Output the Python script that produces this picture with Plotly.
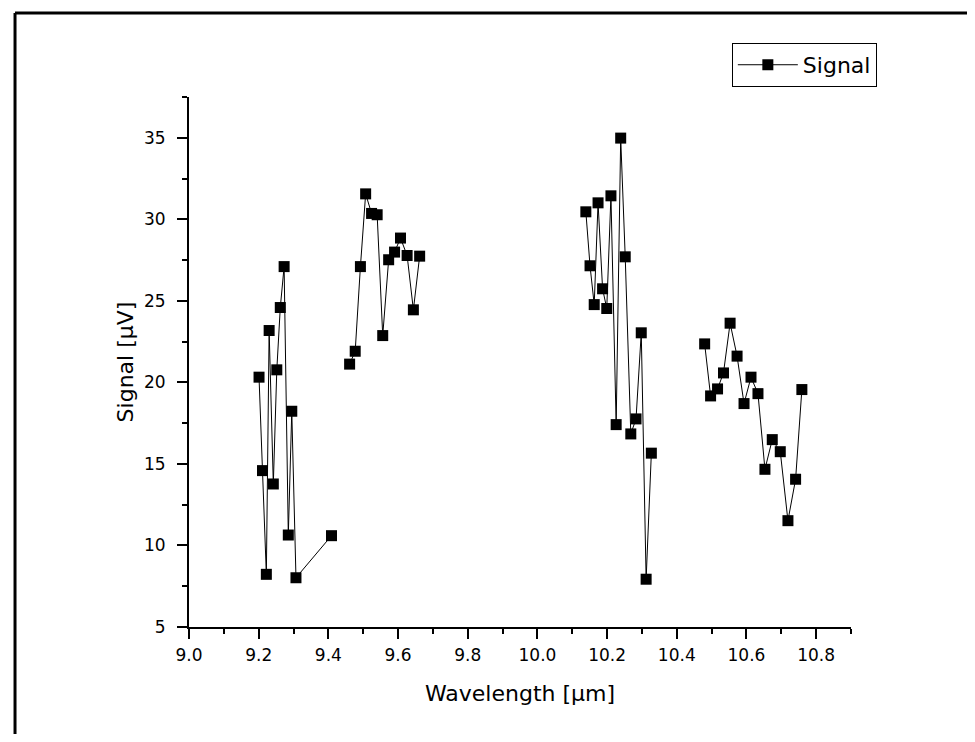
import plotly.graph_objects as go

# Wavelength [µm] (None marks a gap between laser bands)
wavelength = [
    9.201, 9.211, 9.222, 9.230, 9.242, 9.252, 9.262, 9.273, 9.285, 9.295, 9.307, 9.409,
    None,
    9.461, 9.477, 9.492, 9.507, 9.524, 9.540, 9.556, 9.573, 9.590, 9.607, 9.626, 9.644, 9.662,
    None,
    10.139, 10.151, 10.163, 10.174, 10.187, 10.199, 10.211, 10.226, 10.239, 10.252, 10.268,
    10.283, 10.298, 10.312, 10.327,
    None,
    10.480, 10.497, 10.517, 10.534, 10.553, 10.573, 10.593, 10.613, 10.633, 10.653, 10.674,
    10.697, 10.719, 10.741, 10.759,
]

# Signal [µV]
signal = [
    20.32, 14.59, 8.23, 23.18, 13.77, 20.77, 24.59, 27.10, 10.64, 18.23, 8.02, 10.60,
    None,
    21.12, 21.91, 27.10, 31.56, 30.36, 30.28, 22.87, 27.52, 27.99, 28.85, 27.78, 24.45, 27.74,
    None,
    30.46, 27.15, 24.77, 31.01, 25.74, 24.53, 31.44, 17.41, 34.98, 27.70, 16.84,
    17.76, 23.04, 7.93, 15.66,
    None,
    22.36, 19.17, 19.60, 20.58, 23.63, 21.61, 18.70, 20.32, 19.31, 14.67, 16.49,
    15.75, 11.52, 14.06, 19.56,
]

x_ticks = [9.0, 9.2, 9.4, 9.6, 9.8, 10.0, 10.2, 10.4, 10.6, 10.8]
x_ticklabels = ["9.0", "9.2", "9.4", "9.6", "9.8", "10.0", "10.2", "10.4", "10.6", "10.8"]
y_ticks = [5, 10, 15, 20, 25, 30, 35]

FONT = "DejaVu Sans, Liberation Sans, Arial, sans-serif"

fig = go.Figure()
fig.add_trace(go.Scatter(
    x=wavelength, y=signal, mode="lines+markers", name="Signal",
    connectgaps=False,
    line=dict(color="black", width=1),
    marker=dict(symbol="square", size=11, color="black"),
))

fig.update_layout(
    width=959, height=726,
    margin=dict(l=181, r=116, t=89, b=107),
    paper_bgcolor="white", plot_bgcolor="white",
    font=dict(family=FONT, color="black"),
    showlegend=True,
    legend=dict(
        x=0.82, y=1.102, xanchor="left", yanchor="top",
        bordercolor="black", borderwidth=1, bgcolor="white",
        font=dict(size=22, family=FONT),
        itemwidth=60,
        tracegroupgap=0,
    ),
    xaxis=dict(
        range=[9.0, 10.9], tickvals=x_ticks, ticktext=x_ticklabels,
        showgrid=False, zeroline=False,
        showline=True, linecolor="black", linewidth=2,
        ticks="outside", ticklen=10, tickwidth=1.5, tickcolor="black",
        tickfont=dict(size=17, family=FONT),
        ticklabelstandoff=2,
        minor=dict(ticks="outside", ticklen=5, tickwidth=1.5, tickcolor="black", dtick=0.1, showgrid=False),
        title=dict(text="Wavelength [µm]", font=dict(size=22, family=FONT), standoff=21),
    ),
    yaxis=dict(
        range=[5, 37.5], tickvals=y_ticks,
        showgrid=False, zeroline=False,
        showline=True, linecolor="black", linewidth=2,
        ticks="outside", ticklen=10, tickwidth=1.5, tickcolor="black",
        tickfont=dict(size=17, family=FONT),
        ticklabelstandoff=8,
        minor=dict(ticks="outside", ticklen=5, tickwidth=1.5, tickcolor="black", dtick=2.5, showgrid=False),
        title=dict(text="Signal [µV]", font=dict(size=22, family=FONT), standoff=4),
    ),
    shapes=[
        dict(type="line", xref="paper", yref="paper", x0=-0.2628, x1=-0.2628, y0=-1.0, y1=1.1585,
             line=dict(color="black", width=3)),
        dict(type="line", xref="paper", yref="paper", x0=-0.2628, x1=2.0, y0=1.1585, y1=1.1585,
             line=dict(color="black", width=3)),
    ],
)

fig.write_html("out.html")
